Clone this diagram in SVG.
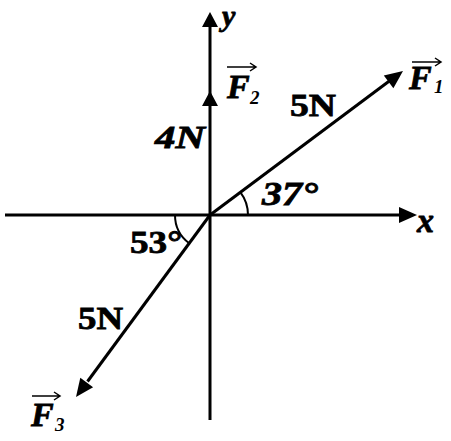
<svg xmlns="http://www.w3.org/2000/svg" width="451" height="441" viewBox="0 0 451 441">
<style>
.ax{stroke:#000;stroke-width:3;fill:none;stroke-linecap:butt}
.arc{stroke:#000;stroke-width:2;fill:none}
.head{fill:#000;stroke:none}
.vec{stroke:#000;stroke-width:1.5;fill:none}
.t{font-family:"Liberation Serif","Times New Roman",serif;font-weight:bold;fill:#000;stroke:#000;stroke-width:0.8}
.i{font-style:italic}
.sub{font-family:"Liberation Serif","Times New Roman",serif;font-style:italic;font-weight:bold;font-size:19px;fill:#000}
</style>
<rect width="451" height="441" fill="#fff"/>
<g id="connectors">
  <g id="y-axis">
    <line class="ax" x1="210" y1="420" x2="210" y2="25"/>
    <polygon class="head" points="210,12 202,27 218,27"/>
  </g>
  <g id="x-axis">
    <line class="ax" x1="5" y1="215" x2="402" y2="215"/>
    <polygon class="head" points="417,215 399,207 399,223"/>
  </g>
  <g id="F2-arrow">
    <polygon class="head" points="210,91 202,106 218,106"/>
  </g>
  <g id="F1-arrow">
    <line class="ax" x1="210" y1="215" x2="390" y2="80.5"/>
    <polygon class="head" points="403,71 393.4,88.2 383.8,75.4"/>
  </g>
  <g id="F3-arrow">
    <line class="ax" x1="210" y1="215" x2="87.5" y2="381.5"/>
    <polygon class="head" points="76,397 93.1,387.2 80.3,377.8"/>
  </g>
  <g id="angle-arcs">
    <path class="arc" d="M 248 215 A 38 38 0 0 0 240.3 192.1"/>
    <path class="arc" d="M 175 215 A 35 35 0 0 0 188.9 243"/>
  </g>
</g>
<g id="label-y"><text class="t i" x="222" y="26" font-size="30">y</text></g>
<g id="label-x"><text class="t i" x="417" y="232" font-size="34">x</text></g>
<g id="label-F2">
  <text class="t i" x="227" y="98" font-size="34">F</text>
  <text class="sub" x="250" y="104">2</text>
  <path class="vec" d="M227 67 H256 M250 63 L256 67 L250 71"/>
</g>
<g id="label-F1">
  <text class="t i" x="409" y="89" font-size="34">F</text>
  <text class="sub" x="434" y="93">1</text>
  <path class="vec" d="M412 62 H441 M435 58 L441 62 L435 66"/>
</g>
<g id="label-F3">
  <text class="t i" x="31" y="426" font-size="34">F</text>
  <text class="sub" x="55" y="431">3</text>
  <path class="vec" d="M32 396 H60 M54 392 L60 396 L54 400"/>
</g>
<g id="label-4N"><text class="t i" x="155" y="148" font-size="31" textLength="50" lengthAdjust="spacingAndGlyphs">4N</text></g>
<g id="label-5N-F1"><text class="t" x="290" y="116" font-size="32" textLength="46" lengthAdjust="spacingAndGlyphs">5N</text></g>
<g id="label-5N-F3"><text class="t" x="78" y="329" font-size="31" textLength="45" lengthAdjust="spacingAndGlyphs">5N</text></g>
<g id="label-37"><text class="t i" x="262" y="205" font-size="33" textLength="56" lengthAdjust="spacingAndGlyphs">37°</text></g>
<g id="label-53"><text class="t" x="130" y="253" font-size="32" textLength="52" lengthAdjust="spacingAndGlyphs">53°</text></g>
</svg>
